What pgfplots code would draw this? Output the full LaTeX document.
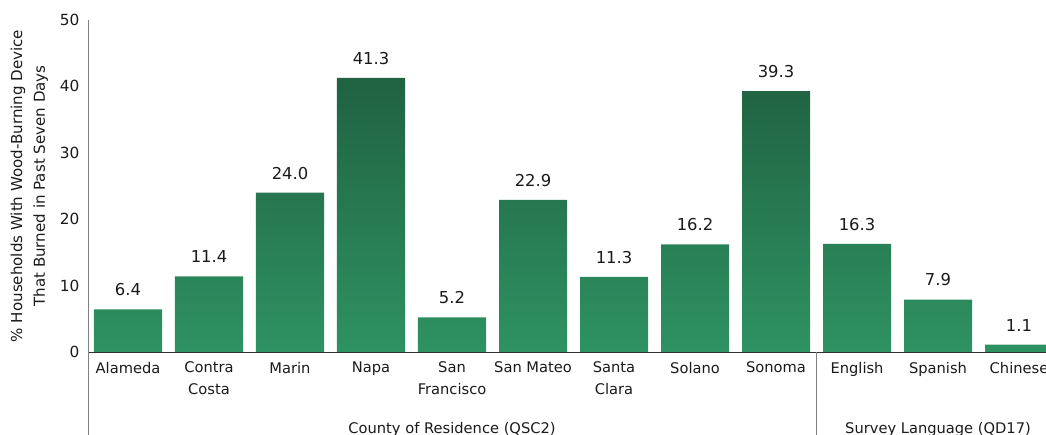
\documentclass[border=0pt]{standalone}
\usepackage{pgfplots}
\pgfplotsset{compat=1.18}
\usepackage{fontspec}
\setmainfont{DejaVu Sans}
\definecolor{bartop}{RGB}{32,98,66}
\definecolor{barmid}{RGB}{43,134,90}
\definecolor{barbot}{RGB}{46,146,98}
\definecolor{txt}{RGB}{26,26,26}
\begin{document}
\begin{tikzpicture}[font=\fontsize{11}{16.5}\selectfont]
\begin{axis}[
  scale only axis, width=718.5pt, height=249pt,
  xmin=-0.494, xmax=11.333, ymin=0, ymax=50,
  ytick={0,10,20,30,40,50},
  xtick={0,1,2,3,4,5,6,7,8,9,10,11},
  xticklabels={Alameda, Contra\\Costa, Marin, Napa, San\\Francisco, San Mateo, Santa\\Clara, Solano, Sonoma, English, Spanish, Chinese},
  xticklabel style={align=center, yshift=-4pt, text=txt},
  yticklabel style={xshift=-3pt, text=txt, font=\fontsize{11.5}{14}\selectfont},
  /pgf/number format/assume math mode=true,
  major tick length=0pt,
  axis x line*=bottom, axis y line*=left,
  x axis line style={draw=black!80},
  y axis line style={draw=black!50},
  axis on top,
  ylabel={\% Households With Wood-Burning Device\\That Burned in Past Seven Days},
  ylabel style={align=center, text=txt, font=\fontsize{11.3}{17}\selectfont, yshift=2pt},
  clip=true,
]
\addplot[ybar, bar width=0.84, draw=none, top color=bartop, middle color=barmid, bottom color=barbot,
  nodes near coords={\pgfmathprintnumber[fixed,fixed zerofill,precision=1]{\pgfplotspointmeta}},
  every node near coord/.append style={anchor=south, yshift=6.5pt, text=txt, font=\fontsize{12.3}{14}\selectfont}]
coordinates {
(0,6.4) (1,11.4) (2,24.0) (3,41.3) (4,5.2) (5,22.9) (6,11.3) (7,16.2) (8,39.3) (9,16.3) (10,7.9) (11,1.1)
};
\coordinate (bl) at (rel axis cs:0,0);
\coordinate (tr) at (rel axis cs:1,1);
\coordinate (sep) at (axis cs:8.5,0);
\coordinate (g1) at (axis cs:4,0);
\coordinate (g2) at (axis cs:10,0);
\end{axis}
\draw[black!50] (bl) -- ++(0,-62.25pt);
\draw[black!50] (sep) -- ++(0,-62.25pt);
\node[anchor=base, text=txt] at ([yshift=-61.5pt]g1) {County of Residence (QSC2)};
\node[anchor=base, text=txt] at ([yshift=-61.5pt]g2) {Survey Language (QD17)};
\pgfresetboundingbox
\path[use as bounding box] ([xshift=-66pt,yshift=-62.25pt]bl) rectangle ([yshift=15pt]tr);
\end{tikzpicture}
\end{document}
